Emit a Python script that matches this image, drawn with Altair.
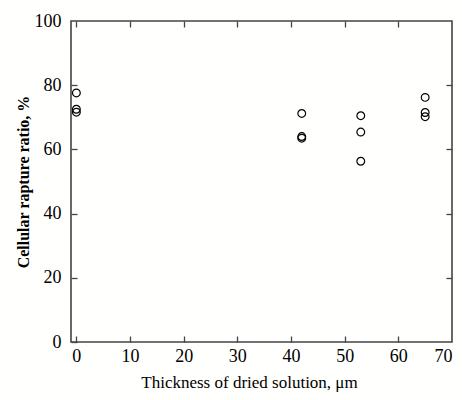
import altair as alt
import pandas as pd

thickness = [0, 0, 0, 42, 42, 42, 53, 53, 53, 65, 65, 65]
rupture = [77.6, 72.5, 71.6, 71.2, 64.0, 63.5, 70.5, 65.4, 56.3, 76.2, 71.5, 70.2]
x_ticks = [0, 10, 20, 30, 40, 50, 60, 70]
y_ticks = [0, 20, 40, 60, 80, 100]

df = pd.DataFrame({"x": thickness, "y": rupture})

FONT = "Liberation Serif"
FRAME = "#444444"

xs = alt.Scale(domain=[-1, 70], nice=False, zero=False)
ys = alt.Scale(domain=[0, 100], nice=False)

points = alt.Chart(df).mark_point(
    shape="circle", filled=False, size=60, stroke="black", strokeWidth=1.2, opacity=1
).encode(
    x=alt.X("x:Q", scale=xs, axis=alt.Axis(
        title="Thickness of dried solution, μm", values=x_ticks, ticks=False, domain=False,
        grid=False, labelFont=FONT, labelFontSize=18, labelColor="black", labelPadding=5,
        titleFont=FONT, titleFontSize=17, titleFontWeight="normal", titleColor="black",
        titlePadding=9, titleX=178)),
    y=alt.Y("y:Q", scale=ys, axis=alt.Axis(
        title="Cellular rapture ratio, %", values=y_ticks, ticks=False, domain=False,
        grid=False, labelFont=FONT, labelFontSize=18, labelColor="black", labelPadding=10,
        titleFont=FONT, titleFontSize=16, titleFontWeight="bold", titleColor="black",
        titlePadding=3)),
)

def tick_layer(xorient, yorient, xvals, yvals):
    return alt.Chart(df).mark_point(opacity=0).encode(
        x=alt.X("x:Q", scale=xs, axis=alt.Axis(
            orient=xorient, values=xvals, labels=False, title=None, domain=False, grid=False,
            ticks=True, tickSize=6, tickColor=FRAME, tickWidth=1.3, offset=-6)),
        y=alt.Y("y:Q", scale=ys, axis=alt.Axis(
            orient=yorient, values=yvals, labels=False, title=None, domain=False, grid=False,
            ticks=True, tickSize=6, tickColor=FRAME, tickWidth=1.3, offset=-6)),
    )

ticks_lb = tick_layer("bottom", "left", x_ticks[:-1], y_ticks[:-1])
ticks_tr = tick_layer("top", "right", x_ticks[:-1], y_ticks[1:-1])

chart = alt.layer(points, ticks_lb, ticks_tr).resolve_axis(
    x="independent", y="independent"
).properties(
    width=381, height=321,
    autosize=alt.AutoSizeParams(type="none"),
    padding={"left": 71, "top": 21, "right": 10, "bottom": 58},
    background="#fffffd",
).configure(font=FONT).configure_view(stroke=FRAME, strokeWidth=1.6)

chart.save("out.html", embed_options={"renderer": "svg", "actions": False})
